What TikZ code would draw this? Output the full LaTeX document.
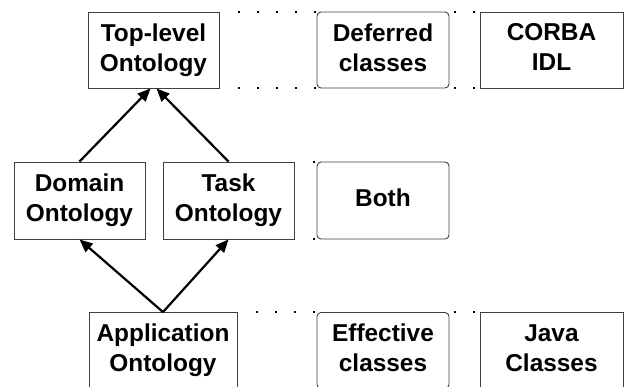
\documentclass[tikz,border=0pt]{standalone}
\usepackage{fontspec}
\setmainfont{Liberation Sans}
\usetikzlibrary{arrows.meta}
\tikzset{
  box/.style={draw=black!75, line width=0.9pt, fill=white, inner sep=0pt,
    align=center, font=\fontsize{24.4}{30}\selectfont\bfseries,
    execute at end node={\vphantom{y}}},
  softbox/.style={box, rounded corners=4pt},
  uparrow/.style={line width=2.2pt, -{Triangle[length=13pt,width=11pt]}},
  dotlink/.style={line width=2pt, dash pattern=on 2pt off 17pt, shorten <=19pt},
  shortlink/.style={line width=2pt, dash pattern=on 2pt off 17pt, shorten <=5pt}
}
\begin{document}
\begin{tikzpicture}[x=1pt, y=-1pt]
  \useasboundingbox (0,0) rectangle (630,387);
  \clip (0,0) rectangle (630,387);

  % Top row
  \node[box, minimum width=131pt, minimum height=76pt] (toplevel) at (153.5,50) {Top-level\\Ontology};
  \node[softbox, minimum width=132pt, minimum height=76pt] (deferred) at (383,50) {Deferred\\classes};
  \node[box, minimum width=143pt, minimum height=76pt] (corba) at (551.5,50) {CORBA\\IDL};

  % Middle row
  \node[box, minimum width=131pt, minimum height=77pt] (domain) at (79.5,200.5) {Domain\\Ontology};
  \node[box, minimum width=131pt, minimum height=77pt] (task) at (228.5,200.5) {Task\\Ontology};
  \node[softbox, minimum width=132pt, minimum height=77pt] (both) at (383,200.5) {Both};

  % Bottom row (cut off at the lower edge)
  \node[box, minimum width=148pt, minimum height=76pt] (application) at (163,350.5) {Application\\Ontology};
  \node[softbox, minimum width=132pt, minimum height=76pt] (effective) at (383,350.5) {Effective\\classes};
  \node[box, minimum width=143pt, minimum height=76pt] (java) at (551.5,350.5) {Java\\Classes};

  % Dotted correspondences
  \draw[dotlink] (toplevel.north east) -- (deferred.north west);
  \draw[dotlink] (toplevel.south east) -- (deferred.south west);
  \draw[shortlink] (deferred.north east) -- (corba.north west);
  \draw[shortlink] (deferred.south east) -- (corba.south west);
  \draw[dotlink] (task.north east) -- (both.north west);
  \draw[dotlink] (task.south east) -- (both.south west);
  \draw[dotlink] (application.north east) -- (effective.north west);
  \draw[dotlink] (application.south east) -- (effective.south west);
  \draw[shortlink] (effective.north east) -- (java.north west);
  \draw[shortlink] (effective.south east) -- (java.south west);

  % Specialisation arrows
  \draw[uparrow] (domain.north) -- ([xshift=-3pt]toplevel.south);
  \draw[uparrow] (task.north) -- ([xshift=3pt]toplevel.south);
  \draw[uparrow] (application.north) -- (domain.south);
  \draw[uparrow] (application.north) -- (task.south);
\end{tikzpicture}
\end{document}
